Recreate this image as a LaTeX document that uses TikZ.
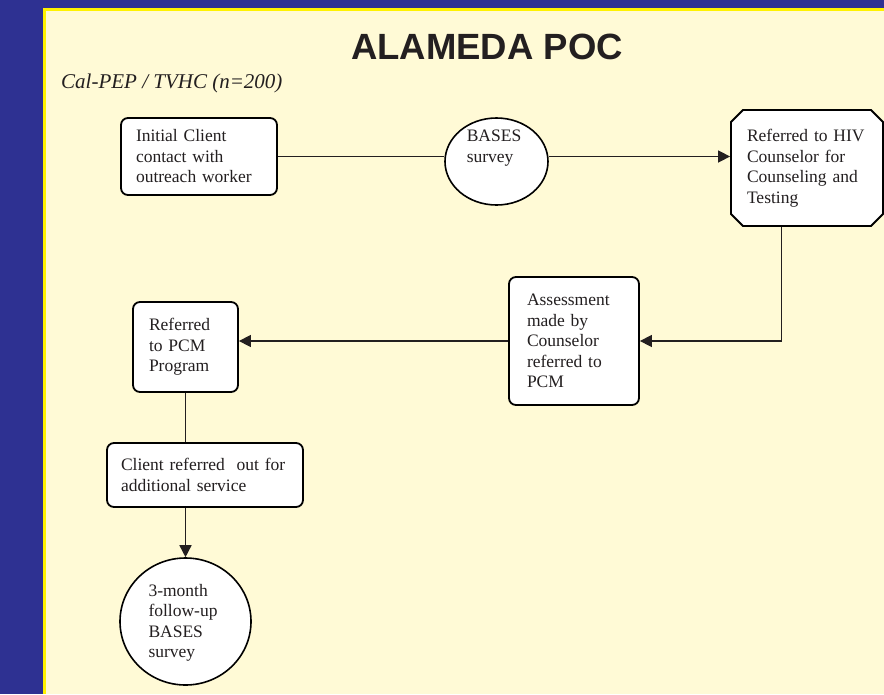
\documentclass[tikz,border=0pt]{standalone}
\usepackage{fontspec}
\setmainfont{Liberation Serif}
\newfontfamily\titlefont{Liberation Sans}
\usetikzlibrary{arrows.meta,shapes.misc,shapes.geometric}
\definecolor{slideblue}{RGB}{46,49,146}
\definecolor{slideyellow}{RGB}{255,242,0}
\definecolor{slidecream}{RGB}{255,250,214}
\definecolor{inkcol}{RGB}{35,31,32}
\begin{document}
\begin{tikzpicture}[x=1pt,y=-1pt,
    box/.style={draw=black,fill=white,line width=1.8pt,rounded corners=7pt,inner sep=0pt,
        text=inkcol,align=left,font=\fontsize{17.5}{20.5}\selectfont},
    ring/.style={draw=black,fill=white,line width=1.6pt,ellipse,inner sep=0pt},
    lbl/.style={text=inkcol,align=left,inner sep=0pt,font=\fontsize{17.5}{20.5}\selectfont},
    link/.style={line width=1.5pt,draw=inkcol},
    flow/.style={link,-{Triangle[length=12pt,width=12pt]}}]
    \useasboundingbox (0,0) rectangle (884,694);
    % slide frame
    \fill[slideblue] (0,0) rectangle (884,694);
    \fill[slideyellow] (43,8) rectangle (884,694);
    \fill[slidecream] (45.5,10.5) rectangle (884,694);
    \node[text=inkcol,font=\titlefont\fontsize{36.5}{40}\selectfont\bfseries] (title) at (487,47) {ALAMEDA POC};
    \node[text=inkcol,anchor=west,inner sep=0pt,font=\fontsize{21}{24}\selectfont\itshape] (site) at (61,83) {Cal-PEP / TVHC (n=200)};
    % boxes of the flow
    \node[box,minimum width=156pt,minimum height=77pt,text width=126pt] (init) at (199,156.5)
        {Initial Client\\contact with\\outreach worker};
    \node[ring,minimum width=103pt,minimum height=87pt] (bases) at (496.5,161.5) {};
    \node[lbl] (baseslbl) at (494,148) {BASES\\survey};
    \node[box,chamfered rectangle,chamfered rectangle xsep=6pt,chamfered rectangle ysep=6pt,
        rounded corners=0pt,minimum width=152pt,minimum height=116pt,text width=120pt] (hiv) at (807,168)
        {Referred to HIV\\Counselor for\\Counseling and\\Testing\\[20pt]};
    \node[box,minimum width=130pt,minimum height=128pt,text width=94pt] (assess) at (574,341)
        {Assessment\\made by\\Counselor\\referred to\\PCM};
    \node[box,minimum width=105pt,minimum height=90pt,text width=73pt] (pcm) at (185.5,347)
        {Referred\\to PCM\\Program\\[8pt]};
    \node[box,minimum width=196pt,minimum height=64pt,text width=168pt] (client) at (205,475)
        {Client referred\ \ out for\\additional service};
    \node[ring,minimum width=131pt,minimum height=127pt] (followup) at (185.5,621.5) {};
    \node[lbl,text width=74pt] (followlbl) at (185.5,623) {3-month\\follow-up\\BASES\\survey};
    % connectors
    \draw[link] (init.east) -- (init.east -| bases.west);
    \draw[flow] (bases.east |- init.east) -- (init.east -| hiv.west);
    \draw[flow] ([xshift=-25.3pt]hiv.south) |- (assess.east);
    \draw[flow] (assess.west) -- (assess.west -| pcm.east);
    \draw[link] (pcm.south) -- (pcm.south |- client.north);
    \draw[flow] (followup.north |- client.south) -- (followup.north);
\end{tikzpicture}
\end{document}
